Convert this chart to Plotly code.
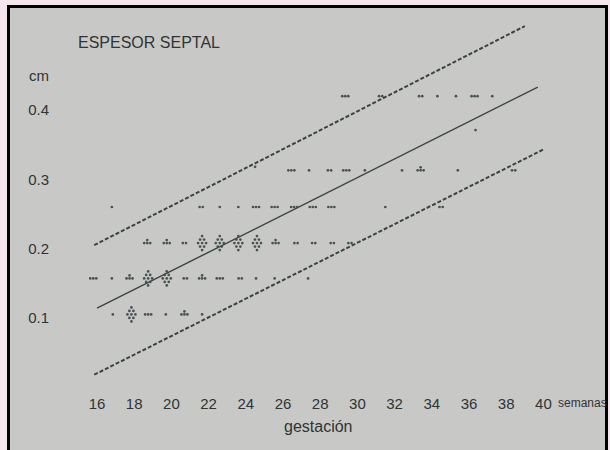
import plotly.graph_objects as go

# ---------------- data ----------------
weeks = [16.85, 17.85, 18.75, 19.7, 20.7, 21.65,
         15.8, 16.8, 17.75, 18.75, 19.75, 20.75, 21.65, 22.6, 23.7, 24.55, 25.55, 27.35,
         18.7, 19.75, 20.7, 21.65, 22.6, 23.6, 24.6, 25.6, 26.7, 27.65, 28.65, 29.6,
         16.8, 21.6, 22.6, 23.6, 24.55, 25.55, 26.6, 27.6, 28.6, 31.5, 34.5,
         24.5, 26.45, 27.4, 28.5, 29.4, 30.4, 32.4, 33.4, 35.4, 38.4,
         29.35, 31.25, 33.4, 34.3, 35.3, 36.3, 37.25,
         36.35]
septum_cm = [0.105] * 6 + [0.157] * 12 + [0.208] * 12 + [0.26] * 11 + \
            [0.318] + [0.313] * 9 + [0.42] * 7 + [0.371]
n_cases = [1, 9, 3, 1, 4, 1,
           3, 1, 4, 9, 9, 2, 4, 3, 2, 1, 1, 1,
           4, 4, 2, 9, 9, 9, 9, 4, 2, 2, 2, 2,
           1, 2, 1, 1, 3, 3, 3, 3, 3, 1, 2,
           1, 3, 1, 2, 3, 1, 1, 4, 1, 2,
           3, 2, 2, 1, 1, 3, 1,
           1]

mean_x = [16.0, 39.7]
mean_y = [0.114, 0.433]
upper_x = [15.85, 39.0]
upper_y = [0.205, 0.521]
lower_x = [15.85, 40.0]
lower_y = [0.018, 0.343]

x_ticks = list(range(16, 41, 2))
y_ticks = [0.1, 0.2, 0.3, 0.4]
y_ticktext = ["0.1", "0.2", "0.3", "0.4"]

# ---------------- styling ----------------
W, H = 610, 450
PX_PER_WEEK = 18.6
PX_PER_CM = 693.0
X0_PX, Y04_PX = 97.0, 110.0
x_range = [16 - X0_PX / PX_PER_WEEK, 16 + (W - X0_PX) / PX_PER_WEEK]
y_range = [0.4 - (H - Y04_PX) / PX_PER_CM, 0.4 + Y04_PX / PX_PER_CM]

# glyph pattern of a cluster of cases (pixel offsets)
patterns = {
    1: [(0, 0)],
    2: [(-1.6, 0), (1.6, 0)],
    3: [(-3, 0), (0, 0), (3, 0)],
    4: [(0, 3), (-3, 0), (0, 0), (3, 0)],
    9: [(0, 7), (-2, 3.5), (2, 3.5), (-4, 0), (0, 0), (4, 0), (-2, -3.5), (2, -3.5), (0, -7)],
}
px, py = [], []
for w, v, n in zip(weeks, septum_cm, n_cases):
    for dx, dy in patterns[n]:
        px.append(w + dx / PX_PER_WEEK)
        py.append(v + dy / PX_PER_CM)

ink = "#3a4443"
text_col = "#2f3434"
font = "Liberation Sans, Arial, sans-serif"

fig = go.Figure()
fig.add_trace(go.Scatter(x=upper_x, y=upper_y, mode="lines",
                         line=dict(color=ink, width=2, dash="4px,2px"), hoverinfo="skip"))
fig.add_trace(go.Scatter(x=lower_x, y=lower_y, mode="lines",
                         line=dict(color=ink, width=2, dash="4px,2px"), hoverinfo="skip"))
fig.add_trace(go.Scatter(x=mean_x, y=mean_y, mode="lines",
                         line=dict(color=ink, width=1.4), hoverinfo="skip"))
fig.add_trace(go.Scatter(x=px, y=py, mode="markers",
                         marker=dict(size=2.7, color="#475252", line=dict(width=0))))

fig.update_layout(
    template="none",
    width=W, height=H,
    margin=dict(l=0, r=0, t=0, b=0),
    paper_bgcolor="#f6e5ed",
    plot_bgcolor="#f6e5ed",
    showlegend=False,
    font=dict(family=font, color=text_col, size=15),
    xaxis=dict(range=x_range, tickvals=x_ticks, ticks="", showgrid=False, zeroline=False,
               showline=False, anchor="free", position=(H - 393) / H, automargin=False,
               tickfont=dict(size=15, color=text_col)),
    yaxis=dict(range=y_range, tickvals=y_ticks, ticktext=y_ticktext, ticks="", showgrid=False,
               zeroline=False, showline=False, anchor="free", position=49 / W, automargin=False,
               tickfont=dict(size=15, color=text_col)),
    shapes=[dict(type="rect", xref="paper", yref="paper", layer="below",
                 x0=8.5 / W, x1=606.5 / W, y0=-0.05, y1=(H - 6.5) / H,
                 fillcolor="#c8c9c6", line=dict(color="#000000", width=3))],
    annotations=[
        dict(text="ESPESOR SEPTAL", xref="paper", yref="paper", x=76 / W, y=(H - 42) / H,
             xanchor="left", yanchor="middle", showarrow=False, font=dict(size=16, color=text_col)),
        dict(text="cm", xref="paper", yref="paper", x=27 / W, y=(H - 76) / H,
             xanchor="left", yanchor="middle", showarrow=False, font=dict(size=15, color=text_col)),
        dict(text="gestación", xref="paper", yref="paper", x=318 / W, y=(H - 426) / H,
             xanchor="center", yanchor="middle", showarrow=False, font=dict(size=16, color=text_col)),
        dict(text="semanas", xref="paper", yref="paper", x=556 / W, y=(H - 403) / H,
             xanchor="left", yanchor="middle", showarrow=False, font=dict(size=12, color=text_col)),
    ],
)

fig.write_html("out.html", config={"displayModeBar": False},
               post_script="document.body.style.margin='0px';")
